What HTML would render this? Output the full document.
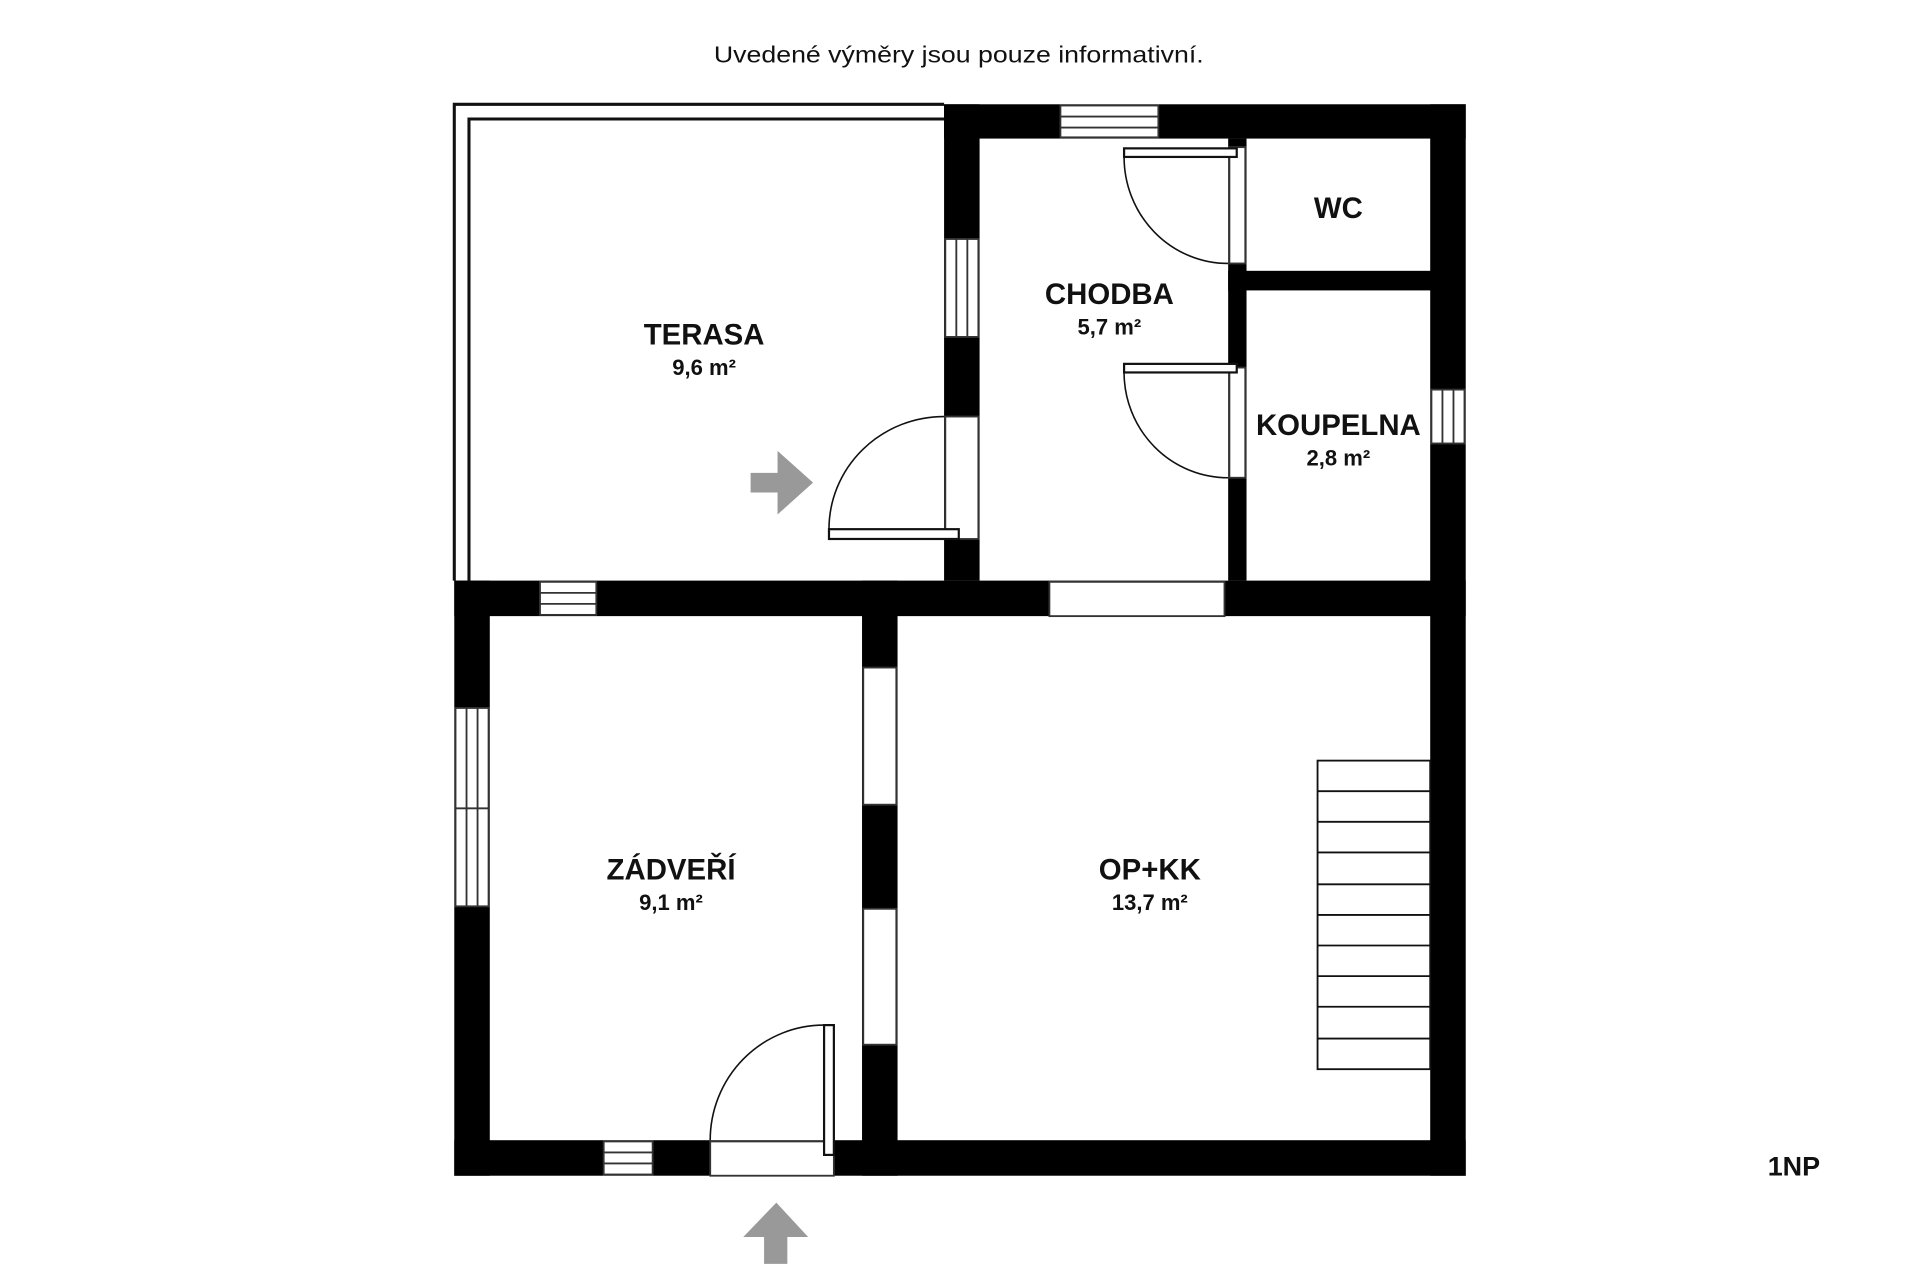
<!DOCTYPE html>
<html><head><meta charset="utf-8"><style>
html,body{margin:0;padding:0;background:#fff;width:1920px;height:1280px;overflow:hidden}
svg{display:block}
text{font-family:"Liberation Sans",sans-serif;font-weight:bold;fill:#111}
</style></head><body>
<svg width="1920" height="1280" viewBox="0 0 1568 1045" xmlns="http://www.w3.org/2000/svg">
<rect width="1568" height="1045" fill="#fff"/>
<text x="583" y="51" font-size="19" textLength="400" lengthAdjust="spacingAndGlyphs" style="font-weight:normal">Uvedené výměry jsou pouze informativní.</text>

<path d="M371,474 V85 H771" fill="none" stroke="#111" stroke-width="2.5"/>
<path d="M383,474 V97 H771" fill="none" stroke="#111" stroke-width="2.5"/>

<g fill="#000">
<rect x="771" y="85" width="426" height="28"/>
<rect x="771" y="85" width="29" height="389"/>
<rect x="1168" y="85" width="29" height="875"/>
<rect x="1003" y="113" width="15" height="361"/>
<rect x="1003" y="221" width="180" height="16"/>
<rect x="371" y="474" width="826" height="29"/>
<rect x="371" y="474" width="29" height="486"/>
<rect x="704" y="474" width="29" height="486"/>
<rect x="371" y="931" width="826" height="29"/>
</g>

<g fill="#fff" stroke="#333" stroke-width="1.5">
<rect x="866" y="86" width="80" height="26"/>
<line x1="866" y1="95" x2="946" y2="95"/><line x1="866" y1="104" x2="946" y2="104"/>
<rect x="772" y="195" width="27" height="80"/>
<line x1="781" y1="195" x2="781" y2="275"/><line x1="790" y1="195" x2="790" y2="275"/>
<rect x="772" y="340" width="27" height="100"/>
<rect x="1004" y="120" width="13" height="95"/>
<rect x="1004" y="300" width="13" height="90"/>
<rect x="1169" y="318" width="27" height="44"/>
<line x1="1178" y1="318" x2="1178" y2="362"/><line x1="1187" y1="318" x2="1187" y2="362"/>
<rect x="441" y="475" width="46" height="27"/>
<line x1="441" y1="484" x2="487" y2="484"/><line x1="441" y1="493" x2="487" y2="493"/>
<rect x="857" y="475" width="143" height="28"/>
<rect x="372" y="578" width="27" height="82"/>
<line x1="381" y1="578" x2="381" y2="660"/><line x1="390" y1="578" x2="390" y2="660"/>
<rect x="372" y="660" width="27" height="80"/>
<line x1="381" y1="660" x2="381" y2="740"/><line x1="390" y1="660" x2="390" y2="740"/>
<rect x="705" y="545" width="27" height="112"/>
<rect x="705" y="742" width="27" height="111"/>
<rect x="493" y="932" width="40" height="27"/>
<line x1="493" y1="941" x2="533" y2="941"/><line x1="493" y1="950" x2="533" y2="950"/>
<rect x="580" y="932" width="101" height="28"/>
</g>

<g fill="none" stroke="#111" stroke-width="1.3">
<path d="M918,128 A85,87 0 0 0 1003,215"/>
<path d="M918,304 A85,86 0 0 0 1003,390"/>
<path d="M677,432 A94,92 0 0 1 771,340"/>
<path d="M580,931 A93,94 0 0 1 673,837"/>
</g>
<g fill="#fff" stroke="#111" stroke-width="1.8">
<rect x="918" y="121" width="92" height="7"/>
<rect x="918" y="297" width="92" height="7"/>
<rect x="677" y="432" width="106" height="8"/>
<rect x="673" y="837" width="8" height="106"/>
</g>

<g fill="#fff" stroke="#111" stroke-width="1.5">
<rect x="1076" y="621" width="92" height="252"/>
<path d="M1076,646H1168M1076,671H1168M1076,696H1168M1076,722H1168M1076,747H1168M1076,772H1168M1076,797H1168M1076,822H1168M1076,848H1168"/>
</g>

<polygon points="613,386 635,386 635,368 664,394 635,420 635,402 613,402" fill="#999"/>
<polygon points="634,982 660,1010 643,1010 643,1032 624,1032 624,1010 607,1010" fill="#999"/>

<g text-anchor="middle">
<text x="575" y="281" font-size="24">TERASA</text>
<text x="575" y="306" font-size="18">9,6 m²</text>
<text x="906" y="248" font-size="24">CHODBA</text>
<text x="906" y="273" font-size="18">5,7 m²</text>
<text x="1093" y="178" font-size="24">WC</text>
<text x="1093" y="355" font-size="24">KOUPELNA</text>
<text x="1093" y="380" font-size="18">2,8 m²</text>
<text x="548" y="718" font-size="24">ZÁDVEŘÍ</text>
<text x="548" y="743" font-size="18">9,1 m²</text>
<text x="939" y="718" font-size="24">OP+KK</text>
<text x="939" y="743" font-size="18">13,7 m²</text>
<text x="1465" y="960" font-size="22">1NP</text>
</g>
</svg>
</body></html>
